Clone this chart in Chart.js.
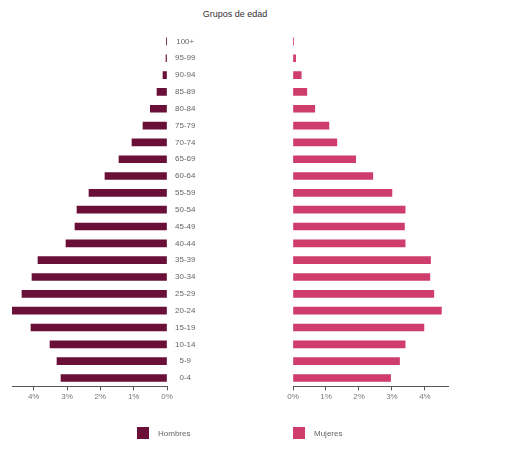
<!DOCTYPE html>
<html>
<head>
<meta charset="utf-8">
<script src="https://cdn.jsdelivr.net/npm/chart.js@4.4.1/dist/chart.umd.min.js"></script>
<style>
  body { margin: 0; background: #fff; font-family: "Liberation Sans", Arial, sans-serif; }
  #wrap { position: relative; width: 508px; height: 461px; overflow: hidden; }
  #left { position: absolute; left: 0; top: 0; }
  #right { position: absolute; left: 280px; top: 0; }
  #title { position: absolute; top: 9px; left: 0; width: 470px; text-align: center; font-size: 9px; color: #333; }
  .leg { position: absolute; top: 427px; font-size: 8px; color: #666; display: flex; align-items: center; }
  .leg span.box { display: inline-block; width: 12px; height: 12px; margin-right: 9px; }
</style>
</head>
<body>
<div id="wrap">
  <div id="title">Grupos de edad</div>
  <canvas id="left" width="300" height="461"></canvas>
  <canvas id="right" width="228" height="461"></canvas>
  <div class="leg" style="left:137px"><span class="box" style="background:#6a1038"></span>Hombres</div>
  <div class="leg" style="left:293px"><span class="box" style="background:#cf3d6d"></span>Mujeres</div>
</div>
<script>
// grupos de edad, de arriba hacia abajo
const grupos = ['100+', '95-99', '90-94', '85-89', '80-84', '75-79', '70-74', '65-69', '60-64', '55-59',
  '50-54', '45-49', '40-44', '35-39', '30-34', '25-29', '20-24', '15-19', '10-14', '5-9', '0-4'];

// porcentaje de la poblacion
const hombres = [0.01, 0.03, 0.12, 0.3, 0.5, 0.72, 1.05, 1.44, 1.86, 2.34,
  2.7, 2.76, 3.03, 3.87, 4.05, 4.35, 4.65, 4.08, 3.51, 3.3, 3.18];
const mujeres = [0.02, 0.08, 0.25, 0.42, 0.66, 1.09, 1.33, 1.9, 2.42, 3.0,
  3.4, 3.38, 3.4, 4.17, 4.15, 4.27, 4.5, 3.97, 3.4, 3.23, 2.96];

const tickFont = { size: 8, family: 'Liberation Sans' };

function xAxis(max, reverse) {
  return {
    min: 0,
    max: max,
    reverse: reverse,
    ticks: { stepSize: 1, includeBounds: false, autoSkip: false, maxRotation: 0, color: '#777', font: tickFont, padding: 2, callback: (v) => v + '%' },
    grid: { drawOnChartArea: false, tickLength: 4, color: '#555' },
    border: { color: '#555', width: 1 }
  };
}

new Chart(document.getElementById('left'), {
  type: 'bar',
  data: {
    labels: grupos,
    datasets: [{ label: 'Hombres', data: hombres, backgroundColor: '#6a1038', barThickness: 7 }]
  },
  options: {
    indexAxis: 'y',
    responsive: false,
    animation: false,
    layout: { padding: { left: 12, right: 7, top: 33, bottom: 57 } },
    plugins: { legend: { display: false }, tooltip: { enabled: false } },
    scales: {
      x: xAxis(4.65, true),
      y: {
        position: 'right',
        grid: { display: false },
        border: { display: false },
        ticks: { color: '#666', font: tickFont, crossAlign: 'center', padding: 0 },
        afterFit: (a) => { a.width = 126; }
      }
    }
  }
});

new Chart(document.getElementById('right'), {
  type: 'bar',
  data: {
    labels: grupos,
    datasets: [{ label: 'Mujeres', data: mujeres, backgroundColor: '#cf3d6d', barThickness: 7 }]
  },
  options: {
    indexAxis: 'y',
    responsive: false,
    animation: false,
    layout: { padding: { left: 13, right: 60, top: 33, bottom: 57 } },
    plugins: { legend: { display: false }, tooltip: { enabled: false } },
    scales: {
      x: xAxis(4.7, false),
      y: { display: false }
    }
  }
});
</script>
</body>
</html>
